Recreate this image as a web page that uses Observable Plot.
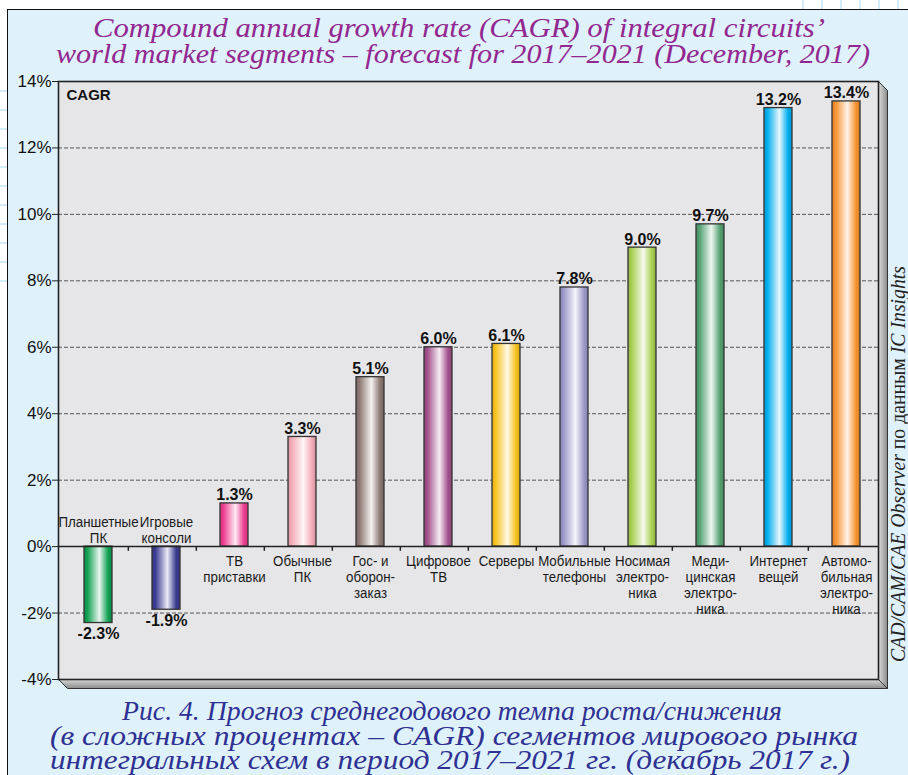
<!DOCTYPE html>
<html><head><meta charset="utf-8">
<script src="https://cdn.jsdelivr.net/npm/d3@7"></script>
<script src="https://cdn.jsdelivr.net/npm/@observablehq/plot@0.6"></script>
<style>
html,body{margin:0;padding:0;overflow:hidden;background:#fff;}
#wrap{position:relative;width:908px;height:775px;overflow:hidden;}
#bg{position:absolute;left:0;top:0;}
#chart{position:absolute;left:0;top:0;}
</style></head><body>
<div id="wrap"><svg id="bg" width="908" height="775"></svg><div id="chart"></div></div>
<script>
// ---------- data ----------
const categories = ["Планшетные ПК","Игровые консоли","ТВ приставки","Обычные ПК","Гос- и оборонзаказ","Цифровое ТВ","Серверы","Мобильные телефоны","Носимая электроника","Медицинская электроника","Интернет вещей","Автомобильная электроника"];
const categoryLabels = ["Планшетные\nПК","Игровые\nконсоли","ТВ\nприставки","Обычные\nПК","Гос- и\nоборон-\nзаказ","Цифровое\nТВ","Серверы","Мобильные\nтелефоны","Носимая\nэлектро-\nника","Меди-\nцинская\nэлектро-\nника","Интернет\nвещей","Автомо-\nбильная\nэлектро-\nника"];
const values = [-2.3, -1.9, 1.3, 3.3, 5.1, 6.0, 6.1, 7.8, 9.0, 9.7, 13.2, 13.4];
const yTicks = [-4, -2, 0, 2, 4, 6, 8, 10, 12, 14];
const seriesName = "CAGR";
const titleLines = ["Compound annual growth rate (CAGR) of integral circuits’", "world market segments – forecast for 2017–2021 (December, 2017)"];
const captionLines = ["Рис. 4. Прогноз среднегодового темпа роста/снижения", "(в сложных процентах – CAGR) сегментов мирового рынка", "интегральных схем в период 2017–2021 гг. (декабрь 2017 г.)"];
const sourceParts = [["CAD/CAM/CAE Observer", true], [" по данным ", false], ["IC Insights", true]];

// ---------- styles ----------
const barColors = ["#12a052","#3b3b92","#ee3d8f","#f4aab6","#8c7873","#a24f8c","#f8c21c","#9c97cb","#a6ce4e","#52a070","#00aeef","#f7922e"];

const W = 908, H = 775;
const mL = 58, mR = 30, mT = 81, mB = 96;
const step = (W - mL - mR) / categories.length;

// ---------- background decoration ----------
const bg = d3.select("#bg");
const defs = bg.append("defs");
barColors.forEach((c, i) => {
  const g = defs.append("linearGradient").attr("id", "g" + i).attr("x1", 0).attr("x2", 1).attr("y1", 0).attr("y2", 0);
  const base = d3.color(c);
  const stops = [
    [0, base.darker(0.35)],
    [0.12, base],
    [0.55, d3.interpolateRgb(c, "#ffffff")(0.9)],
    [0.86, base],
    [1, base.darker(0.45)]
  ];
  stops.forEach(([o, col]) => g.append("stop").attr("offset", o).attr("stop-color", col.toString()));
});
const gr = defs.append("linearGradient").attr("id", "bevR").attr("x1", 0).attr("x2", 1).attr("y1", 0).attr("y2", 0);
gr.append("stop").attr("offset", 0).attr("stop-color", "#e2e2e2");
gr.append("stop").attr("offset", 1).attr("stop-color", "#8a8a8a");
const gb = defs.append("linearGradient").attr("id", "bevB").attr("x1", 0).attr("x2", 0).attr("y1", 0).attr("y2", 1);
gb.append("stop").attr("offset", 0).attr("stop-color", "#dcdcdc");
gb.append("stop").attr("offset", 1).attr("stop-color", "#8a8a8a");

bg.append("rect").attr("width", W).attr("height", H).attr("fill", "#fff");
for (let y = 91; y < 290; y += 19) bg.append("line").attr("x1", 0).attr("x2", 7).attr("y1", y).attr("y2", y).attr("stroke", "#a8d8f2");
for (let x = 803; x < W; x += 19) bg.append("line").attr("x1", x).attr("x2", x).attr("y1", 0).attr("y2", 9).attr("stroke", "#a8d8f2");
bg.append("rect").attr("x", 7.5).attr("y", 9.5).attr("width", 960).attr("height", 900).attr("fill", "#dff1fb").attr("stroke", "#111").attr("stroke-width", 1);

const pr = W - mR, pb = H - mB, d = 9.5;
bg.append("polygon").attr("points", `${pr},${mT} ${pr + d},${mT + d} ${pr + d},${pb + d} ${pr},${pb}`).attr("fill", "url(#bevR)").attr("stroke", "#333").attr("stroke-width", 1);
bg.append("polygon").attr("points", `${mL},${pb} ${pr},${pb} ${pr + d},${pb + d} ${mL + d},${pb + d}`).attr("fill", "url(#bevB)").attr("stroke", "#333").attr("stroke-width", 1);

// title
const titleSpec = [{x: 459, y: 37, len: 732}, {x: 463, y: 63, len: 814}];
titleLines.forEach((t, i) => {
  bg.append("text").attr("x", titleSpec[i].x).attr("y", titleSpec[i].y).attr("text-anchor", "middle")
    .attr("font-family", "Liberation Serif, serif").attr("font-style", "italic").attr("font-size", 28)
    .attr("fill", "#92278f").attr("textLength", titleSpec[i].len).attr("lengthAdjust", "spacingAndGlyphs").text(t);
});
// caption
const capSpec = [{x: 452, y: 720, len: 660}, {x: 454, y: 745, len: 808}, {x: 450, y: 769, len: 800}];
captionLines.forEach((t, i) => {
  bg.append("text").attr("x", capSpec[i].x).attr("y", capSpec[i].y).attr("text-anchor", "middle")
    .attr("font-family", "Liberation Serif, serif").attr("font-style", "italic").attr("font-size", 27)
    .attr("fill", "#2e3192").attr("textLength", capSpec[i].len).attr("lengthAdjust", "spacingAndGlyphs").text(t);
});
// side source text
const st = bg.append("text").attr("transform", "translate(905,662) rotate(-90)")
  .attr("font-family", "Liberation Serif, serif").attr("font-size", 20).attr("fill", "#222")
  .attr("textLength", 396).attr("lengthAdjust", "spacingAndGlyphs");
sourceParts.forEach(([t, it]) => st.append("tspan").attr("font-style", it ? "italic" : "normal").text(t));

// ---------- chart ----------
const data = categories.map((c, i) => ({cat: c, label: categoryLabels[i], value: values[i], fill: `url(#g${i})`}));
const gridVals = yTicks.filter(v => v !== 0 && v !== yTicks[0] && v !== yTicks[yTicks.length - 1]);
const bx = 4;
const labelFont = "Liberation Sans, Arial, Helvetica, sans-serif";

const chart = Plot.plot({
  width: W, height: H,
  marginLeft: mL, marginRight: mR, marginTop: mT, marginBottom: mB,
  style: {background: "transparent", fontFamily: "Liberation Sans, Arial, sans-serif"},
  x: {domain: categories, paddingInner: 0.59, paddingOuter: 0.295, axis: null},
  y: {domain: [yTicks[0], yTicks[yTicks.length - 1]], axis: null},
  color: {type: "identity"},
  marks: [
    Plot.frame({fill: "#e6e6e8", stroke: null}),
    Plot.ruleY(gridVals, {stroke: "#555", strokeWidth: 1, strokeDasharray: "4,2"}),
    Plot.barY(data, {x: "cat", y: "value", fill: "fill", stroke: "#333", strokeWidth: 1.3, dx: bx}),
    Plot.ruleY([0], {stroke: "#222", strokeWidth: 1.5}),
    Plot.ruleX(categories.slice(1), {x: d => d, y1: 0, y2: -0.14, dx: -step / 2, stroke: "#222", strokeWidth: 1.5}),
    Plot.axisY({ticks: yTicks, tickFormat: d => d + "%", tickSize: 6, tickPadding: 1, fontSize: 17, stroke: "#222", fill: "#111", label: null}),
    Plot.text(data.filter(d => d.value >= 0), {x: "cat", y: "value", text: d => d.value.toFixed(1) + "%", dx: bx, dy: -3, lineAnchor: "bottom", fontWeight: "bold", fontSize: 16, fill: "#111"}),
    Plot.text(data.filter(d => d.value < 0), {x: "cat", y: "value", text: d => d.value.toFixed(1) + "%", dx: bx, dy: 5, lineAnchor: "top", fontWeight: "bold", fontSize: 16, fill: "#111"}),
    Plot.text(data.filter(d => d.value >= 0), {x: "cat", y: 0, text: "label", dx: bx, dy: 8, lineAnchor: "top", lineHeight: 1.03, fontSize: 15.5, fill: "#1a1a1a", fontFamily: labelFont}),
    Plot.text(data.filter(d => d.value < 0), {x: "cat", y: 0, text: "label", dx: bx, dy: -4, lineAnchor: "bottom", lineHeight: 1.03, fontSize: 15.5, fill: "#1a1a1a", fontFamily: labelFont}),
    Plot.text([seriesName], {frameAnchor: "top-left", text: d => d, dx: 8, dy: 8, lineAnchor: "top", textAnchor: "start", fontWeight: "bold", fontSize: 15, fill: "#111"}),
    Plot.frame({stroke: "#222", strokeWidth: 1.6})
  ]
});
// condense the category labels horizontally (the original uses a narrow face)
d3.select(chart).selectAll("g").filter(function () { return this.getAttribute("font-family") === labelFont; })
  .selectAll("text").attr("transform", function () { return (this.getAttribute("transform") || "") + " scale(0.86,1)"; });
document.getElementById("chart").appendChild(chart);
</script>
</body></html>
